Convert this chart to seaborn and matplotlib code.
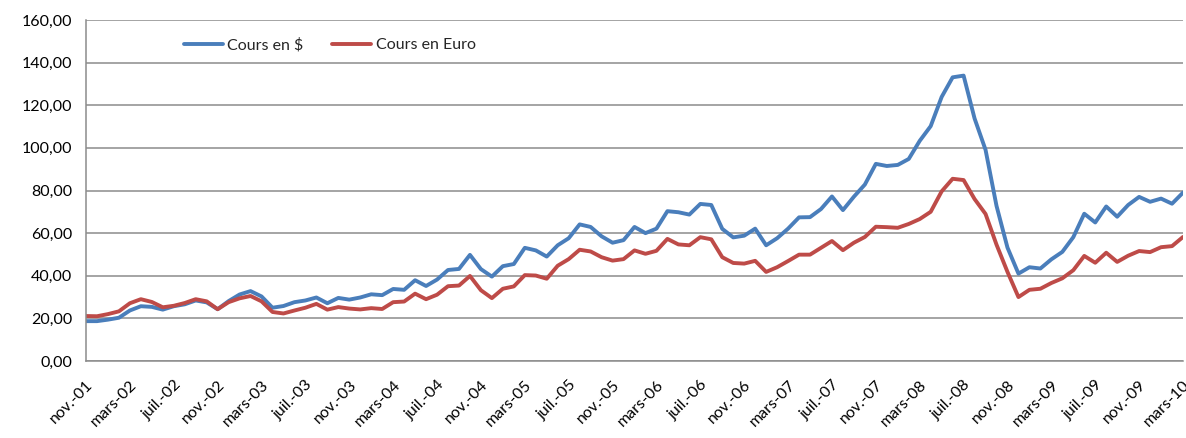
import pandas as pd
import matplotlib
matplotlib.use("Agg")
import matplotlib.pyplot as plt
import seaborn as sns
from matplotlib.ticker import FuncFormatter, MultipleLocator

# -----------------------------
# DATA (monthly, nov. 2001 -> mars 2010)
# -----------------------------
cours_usd = [
    18.7, 18.7,
    19.4, 20.3, 23.7, 25.7, 25.4, 24.1, 25.7, 26.6, 28.4, 27.5, 24.3, 28.1,
    31.2, 32.8, 30.3, 25.0, 25.8, 27.6, 28.4, 29.8, 27.1, 29.6, 28.8, 29.8,
    31.3, 30.9, 33.8, 33.4, 37.9, 35.2, 38.2, 42.7, 43.2, 49.8, 43.1, 39.6,
    44.5, 45.5, 53.1, 51.9, 49.0, 54.3, 57.6, 64.1, 62.9, 58.5, 55.5, 56.7,
    62.9, 60.0, 62.1, 70.3, 69.8, 68.7, 73.7, 73.2, 62.0, 58.0, 58.8, 62.1,
    54.3, 57.6, 62.1, 67.4, 67.5, 71.3, 77.2, 70.8, 77.1, 82.8, 92.5, 91.5,
    92.0, 94.8, 103.3, 110.2, 123.9, 133.1, 133.9, 113.8, 99.1, 72.8, 53.2, 41.0,
    44.0, 43.4, 47.7, 51.2, 58.1, 69.1, 65.0, 72.5, 67.7, 73.2, 77.0, 74.7,
    76.2, 73.8, 79.0,
]
cours_eur = [
    21.1, 21.0,
    22.0, 23.3, 27.1, 29.0, 27.7, 25.2, 25.9, 27.2, 29.0, 28.0, 24.3, 27.6,
    29.4, 30.5, 28.0, 23.0, 22.3, 23.7, 25.0, 26.8, 24.1, 25.3, 24.6, 24.2,
    24.8, 24.4, 27.6, 27.9, 31.6, 29.0, 31.1, 35.1, 35.4, 39.9, 33.2, 29.5,
    33.9, 35.0, 40.3, 40.1, 38.6, 44.7, 47.8, 52.2, 51.4, 48.7, 47.1, 47.8,
    51.9, 50.3, 51.7, 57.3, 54.7, 54.3, 58.1, 57.1, 48.7, 46.0, 45.7, 47.0,
    41.8, 44.0, 46.9, 49.9, 49.9, 53.1, 56.3, 52.0, 55.5, 58.2, 63.0, 62.8,
    62.5, 64.3, 66.6, 70.0, 79.6, 85.5, 84.9, 76.0, 69.0, 54.6, 41.8, 30.0,
    33.4, 33.9, 36.6, 38.8, 42.6, 49.3, 46.1, 50.8, 46.5, 49.4, 51.6, 51.1,
    53.4, 53.9, 58.2,
]
mois_fr = ["janv.", "févr.", "mars", "avr.", "mai", "juin",
           "juil.", "août", "sept.", "oct.", "nov.", "déc."]

# month labels like "nov.-01"
labels = []
for i in range(len(cours_usd)):
    m = (10 + i) % 12
    y = (2001 + (10 + i) // 12) % 100
    labels.append(f"{mois_fr[m]}-{y:02d}")

df = pd.DataFrame({
    "t": list(range(len(cours_usd))) * 2,
    "valeur": cours_usd + cours_eur,
    "serie": ["Cours en $"] * len(cours_usd) + ["Cours en Euro"] * len(cours_eur),
})

# -----------------------------
# PLOT
# -----------------------------
sns.set_style("white")
plt.rcParams["font.family"] = ["Lato", "DejaVu Sans"]

fig = plt.figure(figsize=(11.86, 4.38), dpi=100)
ax = fig.add_axes([86 / 1186, 1 - 361 / 438, 1097 / 1186, 341 / 438])

palette = {"Cours en $": "#4A7EBB", "Cours en Euro": "#BE4B48"}
sns.lineplot(data=df, x="t", y="valeur", hue="serie", palette=palette,
             linewidth=2.8, ax=ax, legend=True)

grid_c = "#8c8c8c"
ax.set_xlim(0, len(cours_usd) - 1)
ax.set_ylim(0, 160)
ax.yaxis.set_major_locator(MultipleLocator(20))
ax.yaxis.set_major_formatter(FuncFormatter(lambda v, p: f"{v:.2f}".replace(".", ",")))
ax.grid(axis="y", color=grid_c, linewidth=1.1)
ax.set_axisbelow(True)

tick_pos = list(range(0, len(cours_usd), 4))
ax.set_xticks(tick_pos)
ax.set_xticklabels([labels[i] for i in tick_pos], rotation=45,
                   ha="right", va="top", rotation_mode="anchor")
ax.tick_params(axis="both", labelsize=11.5, colors="black", length=6,
               width=1.1, direction="out")
ax.tick_params(axis="x", color=grid_c, pad=6)
ax.tick_params(axis="y", color=grid_c, pad=4)

for side in ["top", "right"]:
    ax.spines[side].set_visible(False)
for side in ["left", "bottom"]:
    ax.spines[side].set_color(grid_c)
    ax.spines[side].set_linewidth(1.1)

ax.set_xlabel("")
ax.set_ylabel("")

leg = ax.legend(loc="center", bbox_to_anchor=(330 / 1186, 1 - 45 / 438),
                bbox_transform=fig.transFigure, ncol=2, frameon=False,
                fontsize=11.5, handlelength=2.4, columnspacing=1.8,
                handletextpad=0.3)

fig.savefig("out.png", dpi=100)
